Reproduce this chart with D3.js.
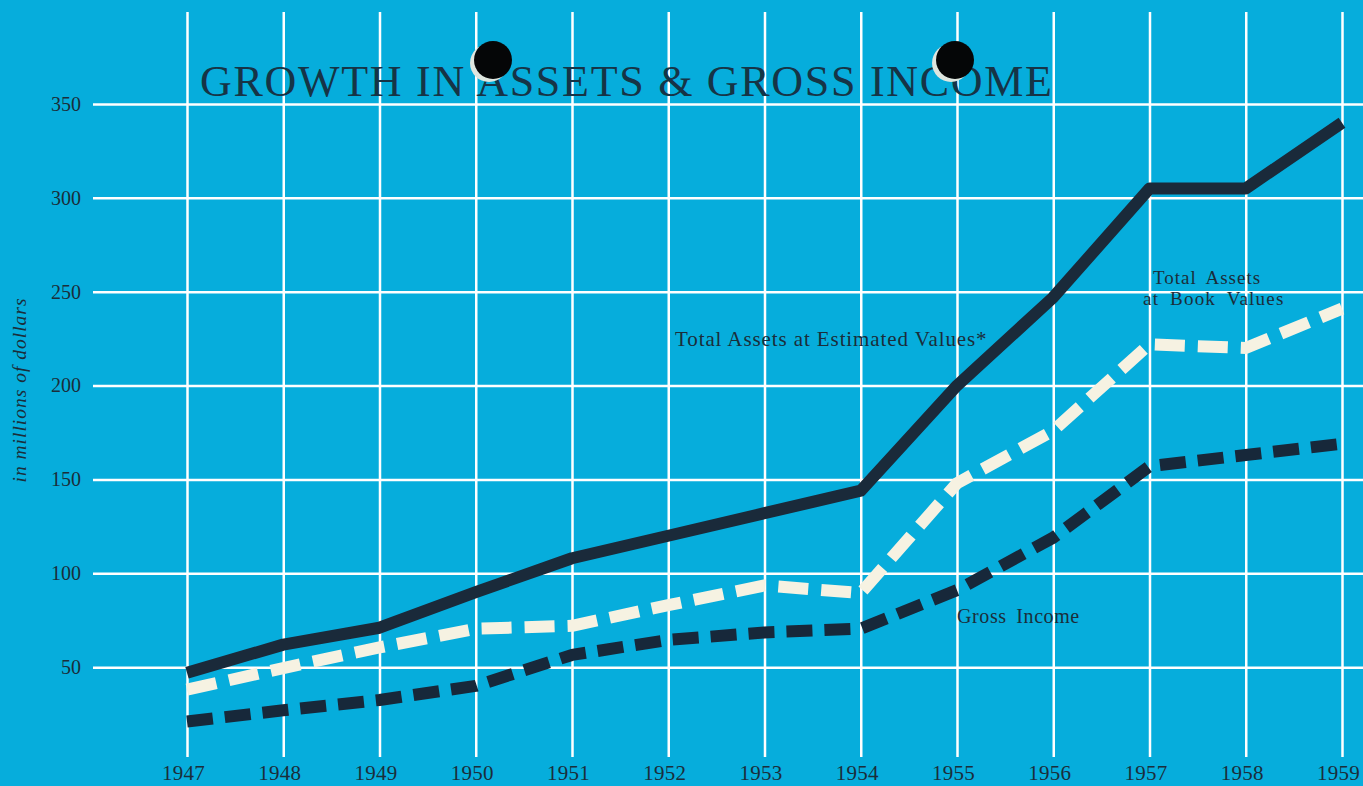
<!DOCTYPE html>
<html>
<head>
<meta charset="utf-8">
<script src="https://cdn.jsdelivr.net/npm/d3@7"></script>
<style>
  body { margin: 0; background: #06addc; }
  svg { display: block; }
  .tick text { font-family: "Liberation Serif", "DejaVu Serif", serif; fill: #1b2d3a; }
</style>
</head>
<body>
<div id="chart"></div>
<script>
var svgWidth = 1363;
var svgHeight = 786;

// data (millions of dollars)
var years = [1947, 1948, 1949, 1950, 1951, 1952, 1953, 1954, 1955, 1956, 1957, 1958, 1959];
var estimatedValues = [47, 62, 71, 90, 108, 120, 132, 144, 200, 247, 305, 305, 340];
var bookValues = [38, 49.5, 60.5, 70.5, 72, 83, 93.5, 89.5, 148, 176, 222, 220, 241];
var grossIncome = [21, 27, 32.5, 40, 56.5, 64.5, 68.5, 70.5, 91, 119, 157, 163, 169];
var yTicks = [50, 100, 150, 200, 250, 300, 350];

var svg = d3.select("#chart")
  .append("svg")
  .attr("width", svgWidth)
  .attr("height", svgHeight);

svg.append("rect")
  .attr("width", svgWidth)
  .attr("height", svgHeight)
  .attr("fill", "#06addc");

// scales
var x = d3.scaleLinear().domain([1947, 1959]).range([187, 1342]);
var y = d3.scaleLinear().domain([0, 350]).range([761, 104]);

// grid + y labels
var yAxis = svg.append("g")
  .attr("transform", "translate(93,0)")
  .call(d3.axisLeft(y).tickValues(yTicks).tickSize(-(svgWidth - 93)).tickPadding(12));
yAxis.select(".domain").remove();
yAxis.selectAll("line").attr("stroke", "#ffffff").attr("stroke-width", 2.5);
yAxis.selectAll("text").attr("font-size", 20);

// grid + x labels
var xAxis = svg.append("g")
  .attr("transform", "translate(0,757)")
  .call(d3.axisBottom(x).tickValues(years).tickFormat(d3.format("d")).tickSize(-745).tickPadding(8));
xAxis.select(".domain").remove();
xAxis.selectAll("line").attr("stroke", "#ffffff").attr("stroke-width", 2.5);
xAxis.selectAll("text").attr("font-size", 21).attr("letter-spacing", 0.3).attr("dx", -4);

// y axis title
svg.append("text")
  .attr("transform", "translate(26,390) rotate(-90)")
  .attr("text-anchor", "middle")
  .attr("font-family", "Liberation Serif, serif")
  .attr("font-style", "italic")
  .attr("font-size", 19.5)
  .attr("letter-spacing", 1)
  .attr("fill", "#1b2d3a")
  .text("in millions of dollars");

// title
svg.append("text")
  .attr("x", 200)
  .attr("y", 96)
  .attr("font-family", "Liberation Serif, serif")
  .attr("font-size", 44)
  .attr("fill", "#163446")
  .attr("textLength", 852)
  .attr("lengthAdjust", "spacing")
  .text("GROWTH IN ASSETS & GROSS INCOME");

// lines
var line = d3.line()
  .x((d, i) => x(years[i]))
  .y(d => y(d));

svg.append("path")
  .attr("d", line(grossIncome))
  .attr("fill", "none")
  .attr("stroke", "#17283a")
  .attr("stroke-width", 12)
  .attr("stroke-linejoin", "round")
  .attr("stroke-dasharray", "26,12");

svg.append("path")
  .attr("d", line(bookValues))
  .attr("fill", "none")
  .attr("stroke", "#f6f2e2")
  .attr("stroke-width", 12)
  .attr("stroke-linejoin", "round")
  .attr("stroke-dasharray", "30,13");

svg.append("path")
  .attr("d", line(estimatedValues))
  .attr("fill", "none")
  .attr("stroke", "#1a2a3a")
  .attr("stroke-width", 12)
  .attr("stroke-linejoin", "round");

// line labels
var labelFont = function(sel, size) {
  sel.attr("font-family", "Liberation Serif, serif")
    .attr("font-size", size)
    .attr("letter-spacing", 0.6)
    .attr("fill", "#1b2d3a");
};
svg.append("text").attr("x", 675).attr("y", 346).call(labelFont, 21).attr("letter-spacing", 0.9).text("Total Assets at Estimated Values*");
svg.append("text").attr("x", 1153).attr("y", 284).call(labelFont, 19).attr("letter-spacing", 1).attr("word-spacing", 4).text("Total Assets");
svg.append("text").attr("x", 1143).attr("y", 305).call(labelFont, 19).attr("letter-spacing", 1.2).attr("word-spacing", 5).text("at Book Values");
svg.append("text").attr("x", 957).attr("y", 623).call(labelFont, 20).attr("word-spacing", 4).text("Gross Income");

// punch holes
[493, 955].forEach(function(cx) {
  svg.append("circle").attr("cx", cx - 4).attr("cy", 63).attr("r", 19).attr("fill", "#dfe6df");
  svg.append("circle").attr("cx", cx).attr("cy", 60).attr("r", 19).attr("fill", "#050607");
});
</script>
</body>
</html>
